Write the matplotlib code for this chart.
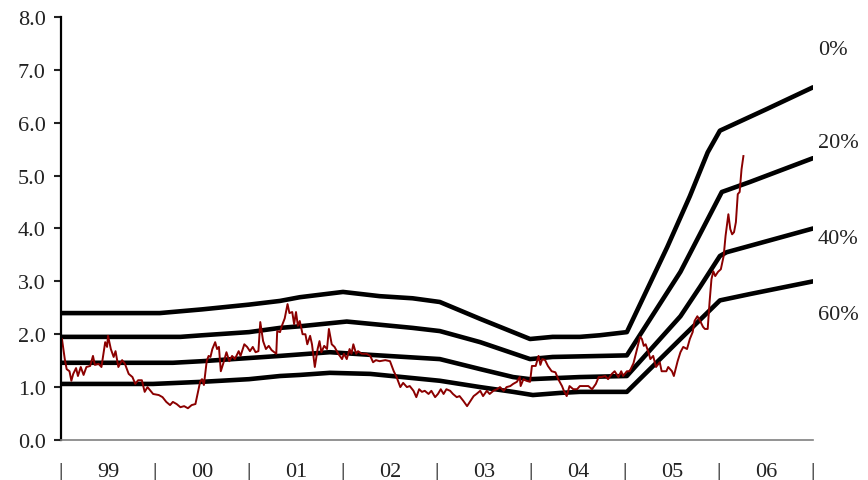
import numpy as np
import matplotlib.pyplot as plt

plt.rcParams['font.family'] = ['Liberation Serif', 'DejaVu Serif']

# black bands: (decimal year, value)
yr_0 = [1999.00, 2000.05, 2000.50, 2001.00, 2001.33, 2001.54, 2002.00, 2002.39, 2002.74,
        2003.03, 2003.46, 2003.99, 2004.23, 2004.52, 2004.73, 2005.02, 2005.45, 2005.69,
        2005.88, 2006.01, 2006.51, 2007.00]
v_0 = [2.40, 2.40, 2.47, 2.56, 2.63, 2.70, 2.80, 2.72, 2.68,
       2.61, 2.29, 1.91, 1.95, 1.95, 1.98, 2.04, 3.65, 4.61,
       5.44, 5.85, 6.26, 6.67]

yr_20 = [1999.00, 2000.27, 2000.50, 2001.00, 2001.33, 2001.54, 2002.04, 2002.74, 2003.03,
         2003.46, 2003.99, 2004.23, 2005.02, 2005.59, 2006.03, 2006.33, 2007.00]
v_20 = [1.95, 1.95, 1.98, 2.04, 2.12, 2.15, 2.24, 2.12, 2.06,
        1.85, 1.53, 1.57, 1.60, 3.18, 4.69, 4.88, 5.33]

yr_40 = [1999.00, 2000.19, 2000.50, 2001.00, 2001.33, 2001.86, 2002.29, 2003.03, 2003.46,
         2003.81, 2003.99, 2004.52, 2005.02, 2005.59, 2005.80, 2006.01, 2006.08, 2007.00]
v_40 = [1.46, 1.46, 1.49, 1.55, 1.59, 1.66, 1.61, 1.53, 1.34,
        1.19, 1.15, 1.19, 1.21, 2.34, 2.90, 3.48, 3.55, 4.00]

yr_60 = [1999.00, 1999.98, 2000.50, 2001.00, 2001.33, 2001.54, 2001.86, 2002.29, 2003.03,
         2003.46, 2003.81, 2004.02, 2004.31, 2004.52, 2005.02, 2005.59, 2006.01, 2006.33,
         2007.00]
v_60 = [1.06, 1.06, 1.10, 1.15, 1.21, 1.23, 1.27, 1.25, 1.12,
        1.00, 0.91, 0.85, 0.89, 0.91, 0.91, 1.91, 2.64, 2.76,
        3.00]

# red series
yr_r = [1999.01, 1999.04, 1999.06, 1999.09, 1999.11, 1999.13, 1999.16, 1999.18, 1999.21, 1999.24,
        1999.27, 1999.31, 1999.34, 1999.36, 1999.40, 1999.43, 1999.47, 1999.49, 1999.50, 1999.53,
        1999.56, 1999.58, 1999.61, 1999.65, 1999.68, 1999.72, 1999.76, 1999.79, 1999.82, 1999.86,
        1999.89, 1999.92, 1999.98, 2000.04, 2000.08, 2000.12, 2000.16, 2000.19, 2000.23, 2000.27,
        2000.31, 2000.35, 2000.39, 2000.43, 2000.45, 2000.48, 2000.50, 2000.52, 2000.55, 2000.57,
        2000.59, 2000.61, 2000.64, 2000.66, 2000.68, 2000.70, 2000.73, 2000.76, 2000.79, 2000.82,
        2000.85, 2000.89, 2000.91, 2000.95, 2000.98, 2001.01, 2001.04, 2001.07, 2001.10, 2001.12,
        2001.15, 2001.18, 2001.21, 2001.24, 2001.29, 2001.30, 2001.33, 2001.35, 2001.38, 2001.41,
        2001.43, 2001.46, 2001.48, 2001.50, 2001.52, 2001.54, 2001.57, 2001.60, 2001.62, 2001.65,
        2001.67, 2001.70, 2001.73, 2001.75, 2001.77, 2001.80, 2001.83, 2001.85, 2001.88, 2001.91,
        2001.95, 2001.99, 2002.01, 2002.04, 2002.07, 2002.09, 2002.11, 2002.14, 2002.16, 2002.20,
        2002.25, 2002.29, 2002.32, 2002.35, 2002.39, 2002.45, 2002.50, 2002.54, 2002.57, 2002.61,
        2002.64, 2002.68, 2002.71, 2002.75, 2002.78, 2002.81, 2002.84, 2002.87, 2002.91, 2002.94,
        2002.98, 2003.01, 2003.04, 2003.07, 2003.10, 2003.14, 2003.17, 2003.21, 2003.24, 2003.28,
        2003.32, 2003.35, 2003.39, 2003.42, 2003.46, 2003.49, 2003.53, 2003.56, 2003.60, 2003.64,
        2003.67, 2003.71, 2003.74, 2003.78, 2003.81, 2003.85, 2003.88, 2003.89, 2003.92, 2003.95,
        2003.99, 2004.01, 2004.05, 2004.08, 2004.10, 2004.12, 2004.15, 2004.18, 2004.22, 2004.26,
        2004.29, 2004.33, 2004.35, 2004.38, 2004.41, 2004.45, 2004.49, 2004.52, 2004.57, 2004.61,
        2004.65, 2004.69, 2004.72, 2004.75, 2004.79, 2004.82, 2004.86, 2004.89, 2004.93, 2004.96,
        2004.98, 2005.02, 2005.05, 2005.09, 2005.12, 2005.16, 2005.18, 2005.20, 2005.22, 2005.25,
        2005.27, 2005.30, 2005.33, 2005.37, 2005.39, 2005.44, 2005.46, 2005.50, 2005.52, 2005.56,
        2005.59, 2005.62, 2005.66, 2005.69, 2005.72, 2005.74, 2005.77, 2005.80, 2005.83, 2005.85,
        2005.88, 2005.90, 2005.92, 2005.94, 2005.96, 2005.99, 2006.02, 2006.05, 2006.07, 2006.10,
        2006.12, 2006.14, 2006.16, 2006.18, 2006.20, 2006.22, 2006.24, 2006.26]
v_r = [1.91, 1.53, 1.34, 1.30, 1.12, 1.25, 1.36, 1.21, 1.38, 1.23,
       1.38, 1.40, 1.59, 1.42, 1.44, 1.38, 1.85, 1.76, 1.97, 1.72,
       1.57, 1.68, 1.38, 1.51, 1.44, 1.25, 1.19, 1.06, 1.13, 1.13,
       0.91, 1.00, 0.87, 0.85, 0.81, 0.72, 0.66, 0.72, 0.68, 0.62,
       0.64, 0.60, 0.66, 0.68, 0.85, 1.10, 1.15, 1.04, 1.49, 1.59,
       1.57, 1.72, 1.85, 1.72, 1.76, 1.30, 1.47, 1.66, 1.49, 1.59,
       1.53, 1.68, 1.59, 1.81, 1.76, 1.68, 1.76, 1.66, 1.68, 2.23,
       1.87, 1.72, 1.78, 1.70, 1.63, 2.06, 2.04, 2.16, 2.30, 2.57,
       2.40, 2.42, 2.19, 2.42, 2.16, 2.25, 2.00, 2.00, 1.81, 1.97,
       1.81, 1.38, 1.72, 1.87, 1.66, 1.78, 1.72, 2.10, 1.81, 1.76,
       1.63, 1.53, 1.63, 1.53, 1.72, 1.63, 1.81, 1.63, 1.68, 1.63,
       1.63, 1.59, 1.47, 1.51, 1.49, 1.51, 1.49, 1.30, 1.19, 1.00,
       1.08, 1.00, 1.02, 0.93, 0.81, 0.96, 0.91, 0.93, 0.87, 0.93,
       0.81, 0.87, 0.96, 0.87, 0.96, 0.93, 0.87, 0.81, 0.83, 0.74,
       0.64, 0.72, 0.83, 0.87, 0.93, 0.83, 0.93, 0.87, 0.93, 0.96,
       1.00, 0.93, 1.00, 1.02, 1.06, 1.10, 1.19, 1.02, 1.15, 1.12,
       1.10, 1.40, 1.40, 1.59, 1.42, 1.53, 1.51, 1.40, 1.30, 1.28,
       1.15, 1.02, 0.93, 0.83, 1.02, 0.96, 0.96, 1.02, 1.02, 1.02,
       0.96, 1.06, 1.19, 1.19, 1.21, 1.15, 1.25, 1.30, 1.19, 1.30,
       1.21, 1.30, 1.30, 1.45, 1.66, 1.95, 1.91, 1.78, 1.81, 1.66,
       1.53, 1.59, 1.38, 1.47, 1.30, 1.30, 1.38, 1.30, 1.21, 1.49,
       1.66, 1.76, 1.72, 1.91, 2.04, 2.25, 2.34, 2.25, 2.14, 2.10,
       2.10, 2.61, 3.04, 3.19, 3.10, 3.18, 3.23, 3.48, 3.86, 4.27,
       3.99, 3.89, 3.93, 4.12, 4.65, 4.69, 5.12, 5.37]

band_labels = ['0%', '20%', '40%', '60%']
band_label_y = [7.39, 5.63, 3.82, 2.38]
year_labels = ['99', '00', '01', '02', '03', '04', '05', '06']

fig = plt.figure(figsize=(8.68, 4.81), dpi=100)
ax = fig.add_axes([0.0703, 0.0832, 0.8663, 0.8794])

for yy, vv in [(yr_0, v_0), (yr_20, v_20), (yr_40, v_40), (yr_60, v_60)]:
    ax.plot(yy, vv, color='black', lw=3.3, solid_capstyle='round', solid_joinstyle='round')
ax.plot(yr_r, v_r, color='#8B0000', lw=1.4)

for lab, y in zip(band_labels, band_label_y):
    ax.text(2007.05, y, lab, fontsize=16, va='center', ha='left', clip_on=False,
            color='#222222')

ax.set_xlim(1999, 2007)
ax.set_ylim(0, 8)
ax.set_yticks(np.arange(0, 9, 1))
ax.set_yticklabels(['%.1f' % v for v in np.arange(0, 9, 1)], fontsize=16)
ax.tick_params(axis='y', direction='out', length=5, width=1.5, pad=6, colors='#222222')

years = np.arange(1999, 2008)
ax.set_xticks(years)
ax.set_xticklabels(['|'] * len(years), fontsize=16)
ax.set_xticks(years[:-1] + 0.5, minor=True)
ax.set_xticklabels(year_labels, minor=True, fontsize=16)
ax.tick_params(axis='x', which='both', length=0, pad=16, colors='#222222')

ax.spines['top'].set_visible(False)
ax.spines['right'].set_visible(False)
ax.spines['left'].set_linewidth(1.6)
ax.spines['left'].set_color('black')
ax.spines['bottom'].set_color('#808080')
ax.spines['bottom'].set_linewidth(1.2)

plt.savefig('out.png', dpi=100)
